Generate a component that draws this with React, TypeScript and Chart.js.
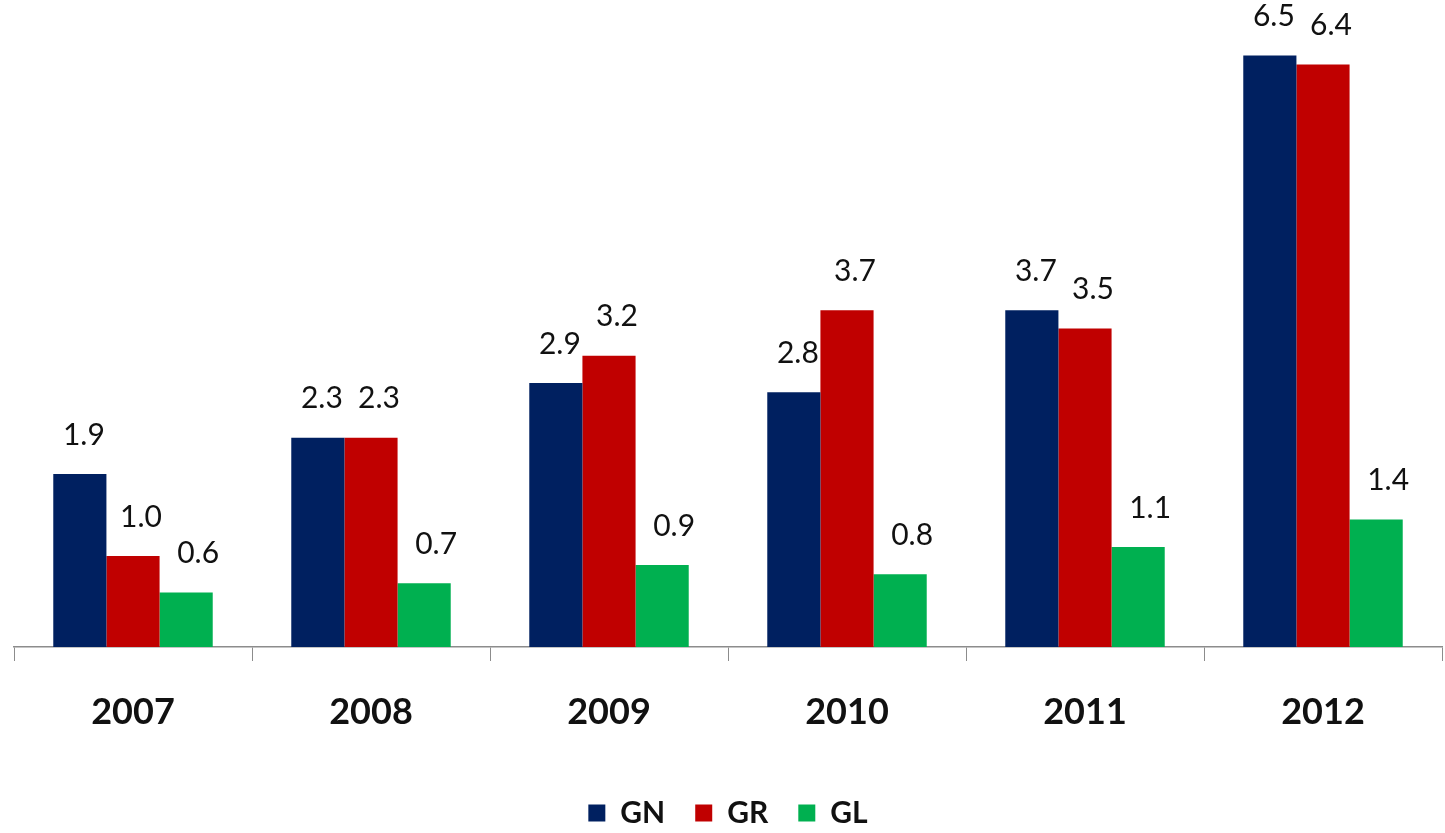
import React, { useEffect, useRef } from "react";
import { Chart, registerables } from "chart.js";

Chart.register(...registerables);

const categories = ["2007", "2008", "2009", "2010", "2011", "2012"];
const gnValues = [1.9, 2.3, 2.9, 2.8, 3.7, 6.5];
const grValues = [1.0, 2.3, 3.2, 3.7, 3.5, 6.4];
const glValues = [0.6, 0.7, 0.9, 0.8, 1.1, 1.4];
const seriesNames = ["GN", "GR", "GL"];
const seriesColors = ["#002060", "#c00000", "#00b050"];

const valueLabels = {
  id: "valueLabels",
  afterDatasetsDraw(chart: any) {
    const ctx = chart.ctx;
    ctx.save();
    ctx.font = "30px Lato";
    ctx.fillStyle = "#111";
    ctx.textAlign = "center";
    ctx.textBaseline = "middle";
    chart.data.datasets.forEach((ds: any, di: number) => {
      const meta = chart.getDatasetMeta(di);
      meta.data.forEach((el: any, i: number) => {
        const v = ds.data[i] as number;
        ctx.fillText(v.toFixed(1), el.x + 4 + di * 4, el.y - 39);
      });
    });
    ctx.restore();
  },
};

export default function App() {
  const ref = useRef<HTMLCanvasElement | null>(null);
  useEffect(() => {
    document.body.style.margin = "0";
    Chart.defaults.font.family = "Lato";
    const allValues = [gnValues, grValues, glValues];
    const chart = new Chart(ref.current as HTMLCanvasElement, {
      type: "bar",
      data: {
        labels: categories,
        datasets: allValues.map((vals, i) => ({
          label: seriesNames[i],
          data: vals,
          backgroundColor: seriesColors[i],
          borderWidth: 0,
          categoryPercentage: 0.67,
          barPercentage: 1.0,
        })),
      },
      options: {
        animation: false,
        responsive: true,
        maintainAspectRatio: false,
        layout: { padding: { left: 14, right: 3, top: 10, bottom: -5 } },
        plugins: {
          legend: {
            position: "bottom",
            labels: {
              boxWidth: 17,
              boxHeight: 17,
              padding: 30,
              color: "#111",
              font: { size: 30, weight: "bold", family: "Lato" },
            },
          },
          tooltip: { enabled: false },
        },
        scales: {
          x: {
            grid: {
              offset: true,
              drawOnChartArea: false,
              drawTicks: true,
              tickLength: 14,
              color: "#8c8c8c",
            },
            border: { display: true, color: "#8c8c8c", width: 1.5 },
            ticks: {
              color: "#111",
              padding: 30,
              font: { size: 36, weight: "bold", family: "Lato" },
            },
            afterFit(scale: any) {
              scale.height = 121;
            },
          },
          y: {
            display: false,
            min: 0,
            max: 7,
          },
        },
      },
      plugins: [valueLabels],
    });
    return () => chart.destroy();
  }, []);
  return (
    <div style={{ width: 1445, height: 833, position: "relative" }}>
      <canvas ref={ref} />
    </div>
  );
}
